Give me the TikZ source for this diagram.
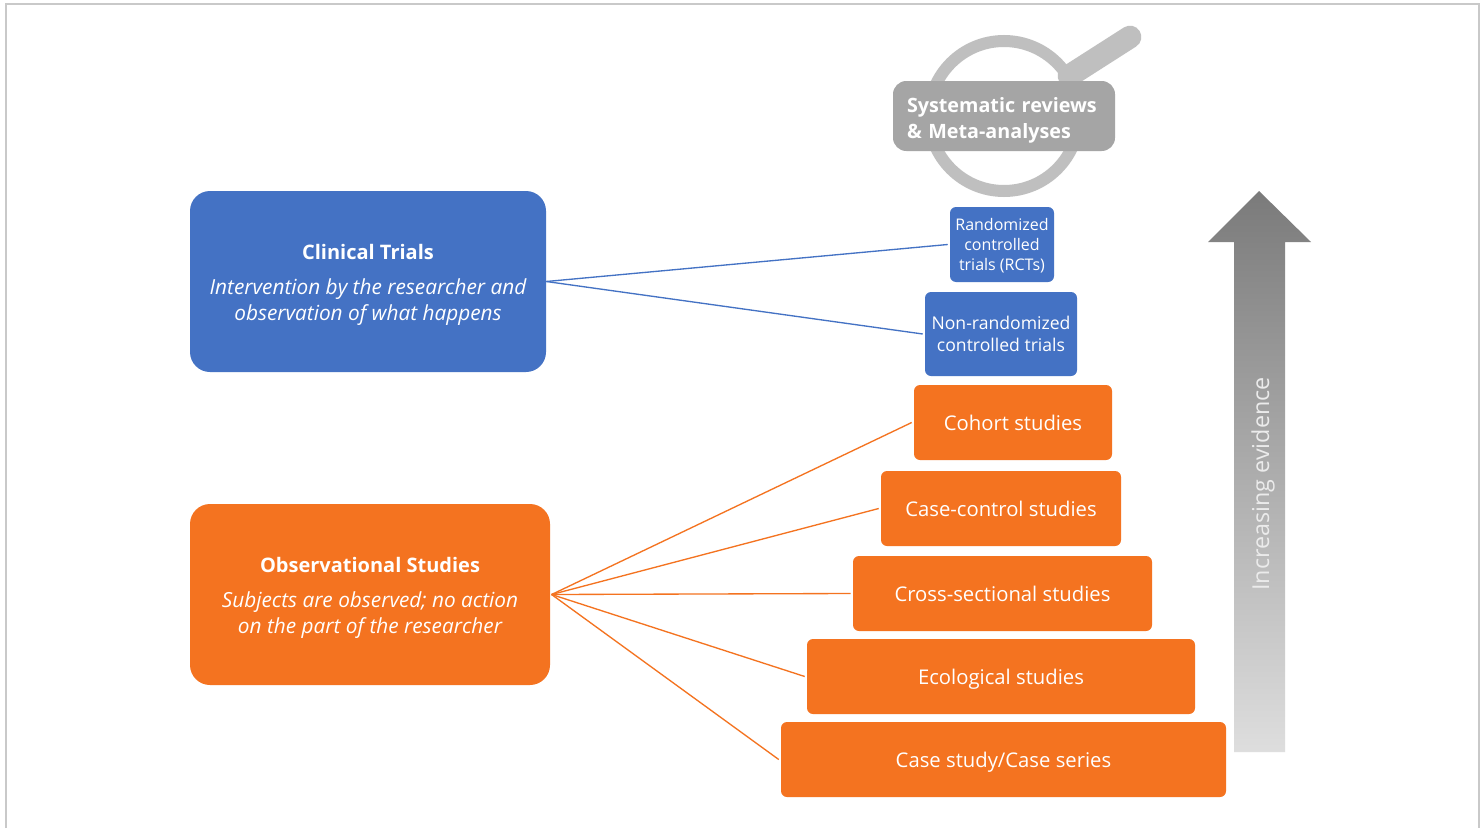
\documentclass[tikz,border=0pt]{standalone}
\usepackage{fontspec}
\setmainfont{Open Sans}
\definecolor{cblue}{HTML}{4472C4}
\definecolor{corange}{HTML}{F47320}
\definecolor{cgrey}{HTML}{A5A5A5}
\definecolor{cring}{HTML}{BFBFBF}
\definecolor{cframe}{HTML}{C9C9C9}
\newcommand{\bx}[7]{% name, x0,y0,x1,y1, style, text
  \node[#6, minimum width={(#4-#2)*0.75pt}, minimum height={(#5-#3)*0.75pt}] (#1) at ({(#2+#4)/2},{(#3+#5)/2}) {#7};}
\newcommand{\subfont}{\fontsize{15.6}{19.5}\selectfont\itshape}
\tikzset{
  x=0.75pt,y=-0.75pt,
  box/.style={rectangle,rounded corners=4.5pt,inner sep=0pt,align=center,text=white},
  bluebox/.style={box,fill=cblue},
  orangebox/.style={box,fill=corange},
  oneline/.style={orangebox,font=\fontsize{15.2}{17}\selectfont,text height=15.5pt,text depth=2.8pt},
  smallblue/.style={bluebox,font=\fontsize{12}{15}\selectfont},
  midblue/.style={bluebox,font=\fontsize{13.2}{16.5}\selectfont},
  bigbox/.style={box,rounded corners=15pt,font=\fontsize{15}{19.5}\selectfont},
  greybox/.style={box,fill=cgrey,rounded corners=10pt,inner xsep=10.5pt,text width=145.5pt,align=left,font=\fontsize{14.8}{19.5}\selectfont\bfseries},
  bluelink/.style={draw=cblue,line width=1pt},
  orangelink/.style={draw=corange,line width=1pt},
}
\begin{document}
\begin{tikzpicture}
\useasboundingbox (0,0) rectangle (1481,828);
\fill[white] (0,0) rectangle (1481,828);
\draw[cframe,line width=1.5pt] (6,828) -- (6,4) -- (1479,4) -- (1479,828);
% magnifier
\draw[cring,line width=9pt] (1004,116) circle (75);
\draw[cring,line width=17pt,line cap=round] (1069,76) -- (1130,37);
% arrow
\shade[top color=black!52,bottom color=black!13] (1259,191) -- (1311,242) -- (1285,242) -- (1285,752) -- (1234,752) -- (1234,242) -- (1208,242) -- cycle;
\node[rotate=90,text=white!92!black,font=\fontsize{17.5}{19}\selectfont,inner sep=0pt] (ev) at (1263,484) {Increasing evidence};
% left boxes
\bx{clin}{190}{191}{546}{372}{bluebox,bigbox}{\rule{0pt}{17pt}{\bfseries Clinical Trials}\\[6.7pt]{\subfont Intervention by the researcher and}\\{\subfont observation of what happens}}
\bx{obs}{190}{504}{550}{685}{orangebox,bigbox}{\rule{0pt}{17pt}{\bfseries Observational Studies}\\[6.9pt]{\subfont Subjects are observed; no action}\\{\subfont on the part of the researcher}}
% pyramid
\bx{sr}{893}{81}{1115}{151}{greybox}{\rule{0pt}{17.5pt}Systematic reviews\\\& Meta-analyses}
\bx{rct}{950}{207}{1054}{282}{smallblue}{\rule{0pt}{11.5pt}Randomized\\controlled\\trials (RCTs)}
\bx{nrct}{925}{292}{1077}{376}{midblue}{Non-randomized\\controlled trials}
\bx{coh}{914}{385}{1112}{460}{oneline}{Cohort studies}
\bx{cc}{881}{471}{1121}{546}{oneline}{Case-control studies}
\bx{cs}{853}{556}{1152}{631}{oneline}{Cross-sectional studies}
\bx{eco}{807}{639}{1195}{714}{oneline}{Ecological studies}
\bx{cser}{781}{722}{1226}{797}{oneline}{Case study/Case series}
% links
\draw[bluelink] (clin.east) -- ([xshift=-1.5pt]rct.west);
\draw[bluelink] (clin.east) -- ([xshift=-1.5pt]nrct.west);
\foreach \t in {coh,cc,cs,eco,cser}{
  \draw[orangelink] ([xshift=1pt]obs.east) -- ([xshift=-1.5pt]\t.west);
}
\end{tikzpicture}
\end{document}
